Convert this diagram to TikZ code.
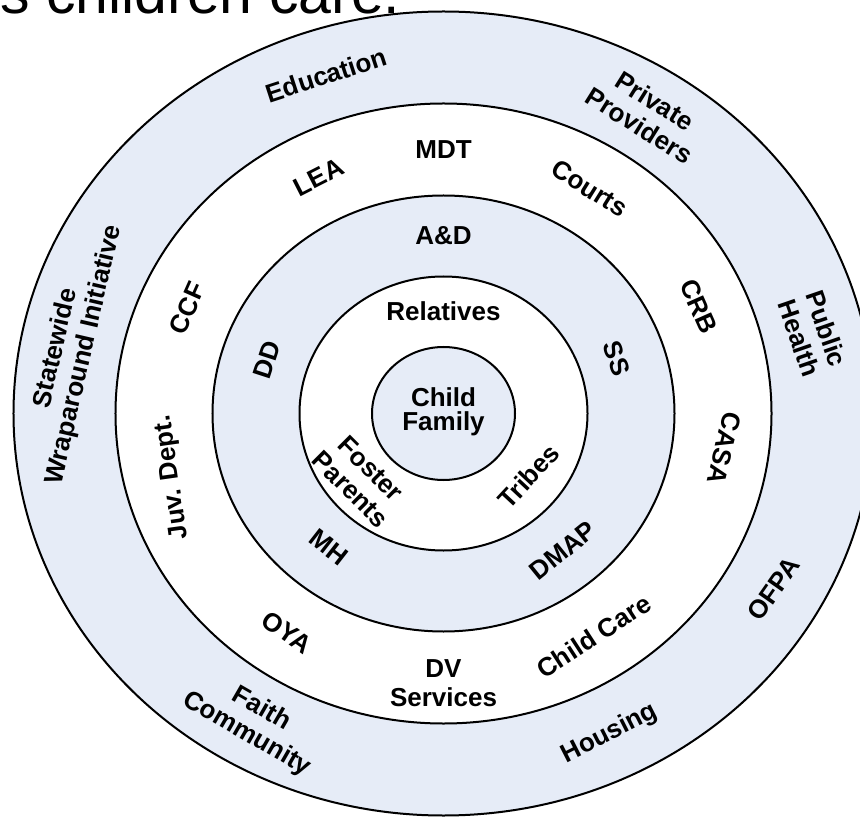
\documentclass[tikz,border=0pt]{standalone}
\usepackage{fontspec}
\setmainfont{Liberation Sans}
\definecolor{ringblue}{RGB}{230,236,247}
\tikzset{
  ring/.style={line width=1pt, draw=black},
  lbl/.style={font=\fontsize{13}{14.5}\selectfont\bfseries, align=center, inner sep=0pt}
}

\begin{document}
\begin{tikzpicture}[x=0.5pt,y=0.5pt]
    \useasboundingbox (-443.5,-404.5) rectangle (416.5,413.5);

    % Titelzeile (oben abgeschnitten)
    \node[anchor=base west, inner sep=0pt, font=\fontsize{29.5}{34}\selectfont] (title) at (-443.5,400) {s children care.};

    % Ringe
    \draw[ring, fill=ringblue] (0,0) ellipse [x radius=430, y radius=402];
    \draw[ring, fill=white] (0,0) ellipse [x radius=328, y radius=310];
    \draw[ring, fill=ringblue] (0,0) ellipse [x radius=231, y radius=218];
    \draw[ring, fill=white] (0,0) ellipse [x radius=144, y radius=137];
    \draw[ring, fill=ringblue] (0,0) ellipse [x radius=71.5, y radius=66.5];

    % Mitte
    \node[lbl, font=\fontsize{13}{12}\selectfont\bfseries] (child) at (0,2) {Child\\Family};

    % innerer weisser Ring
    \node[lbl] (rel) at (90:108 and 102) {Relatives};
    \node[lbl, rotate=-45] (foster) at (-140:108 and 102) {Foster\\Parents};
    \node[lbl, rotate=47] (tribes) at (-38:108 and 102) {Tribes};

    % blauer Ring
    \node[lbl] (ad) at (90:187.5 and 177.5) {A\&D};
    \node[lbl, rotate=72] (dd) at (162.5:185 and 177.5) {DD};
    \node[lbl, rotate=-72] (ss) at (18:182 and 177.5) {SS};
    \node[lbl, rotate=-38] (mh) at (-129:182 and 172) {MH};
    \node[lbl, rotate=39] (dmap) at (-50.5:187.5 and 177.5) {DMAP};

    % weisser Ring
    \node[lbl] (mdt) at (90:279.5 and 264) {MDT};
    \node[lbl, rotate=27] (lea) at (116.5:279.5 and 264) {LEA};
    \node[lbl, rotate=-32] (courts) at (58.5:279.5 and 264) {Courts};
    \node[lbl, rotate=66] (ccf) at (156.5:279.5 and 264) {CCF};
    \node[lbl, rotate=-66] (crb) at (24:279.5 and 264) {CRB};
    \node[lbl, rotate=-104] (casa) at (-7.5:283 and 267) {CASA};
    \node[lbl, rotate=98] (juv) at (194:279.5 and 264) {Juv. Dept.};
    \node[lbl, rotate=-35] (oya) at (-124:279.5 and 264) {OYA};
    \node[lbl] (dv) at (-90:279.5 and 270) {DV\\Services};
    \node[lbl, rotate=33] (care) at (-57.5:279.5 and 264) {Child Care};

    % aeusserer Ring
    \node[lbl, rotate=18] (edu) at (108:379 and 356) {Education};
    \node[lbl, rotate=-32] (priv) at (57.5:379 and 356) {Private\\Providers};
    \node[lbl, rotate=-71] (health) at (13:379 and 356) {Public\\Health};
    \node[lbl, rotate=55] (ofpa) at (-29.5:379 and 356) {OFPA};
    \node[lbl, rotate=27] (housing) at (-64:379 and 356) {Housing};
    \node[lbl, rotate=-30] (faith) at (-120:379 and 356) {Faith\\Community};
    \node[lbl, rotate=77] (swi) at (170:379 and 356) {Statewide\\Wraparound Initiative};
\end{tikzpicture}
\end{document}
